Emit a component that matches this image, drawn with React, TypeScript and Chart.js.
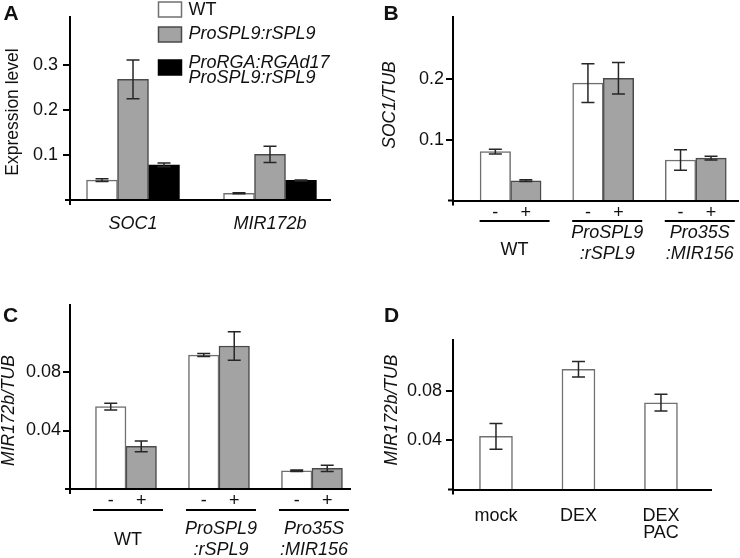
import React, { useEffect, useRef } from 'react';
import { Chart, registerables } from 'chart.js';

Chart.register(...registerables);

const FONT = "'Liberation Sans', Arial, Helvetica, sans-serif";
const TEXT = '#111111';
const WHITE_FILL = '#ffffff';
const WHITE_EDGE = '#707070';
const GRAY_FILL = '#a3a3a3';
const GRAY_EDGE = '#4a4a4a';
const BLACK_FILL = '#000000';
const ERR_COLOR = '#262626';

// ---------- Panel A ----------
const A_CATEGORIES = ['SOC1', 'MIR172b'];
const A_SERIES = [['WT'], ['ProSPL9:rSPL9'], ['ProRGA:RGAd17', 'ProSPL9:rSPL9']];
const A_SERIES_ITALIC = [false, true, true];
const A_WT = [0.044, 0.015];
const A_WT_ERR = [0.003, 0.001];
const A_RSPL9 = [0.268, 0.1015];
const A_RSPL9_ERR = [0.043, 0.018];
const A_RGA_RSPL9 = [0.078, 0.0435];
const A_RGA_RSPL9_ERR = [0.004, 0.001];
const A_TICKS = [0.1, 0.2, 0.3];
const A_TICK_LABELS = ['0.1', '0.2', '0.3'];
const A_Y_TITLE = 'Expression level';

// ---------- Panel B ----------
const B_GROUPS = [['WT'], ['ProSPL9', ':rSPL9'], ['Pro35S', ':MIR156']];
const B_GROUP_ITALIC = [false, true, true];
const B_TREATMENTS = ['-', '+'];
const B_MINUS = [0.0807, 0.194, 0.067];
const B_MINUS_ERR = [0.004, 0.032, 0.017];
const B_PLUS = [0.0327, 0.202, 0.07];
const B_PLUS_ERR = [0.0015, 0.026, 0.003];
const B_TICKS = [0.1, 0.2];
const B_TICK_LABELS = ['0.1', '0.2'];
const B_Y_TITLE = 'SOC1/TUB';

// ---------- Panel C ----------
const C_GROUPS = [['WT'], ['ProSPL9', ':rSPL9'], ['Pro35S', ':MIR156']];
const C_GROUP_ITALIC = [false, true, true];
const C_TREATMENTS = ['-', '+'];
const C_MINUS = [0.0563, 0.0916, 0.0125];
const C_MINUS_ERR = [0.0023, 0.001, 0.0005];
const C_PLUS = [0.0292, 0.0978, 0.0141];
const C_PLUS_ERR = [0.0037, 0.0098, 0.0021];
const C_TICKS = [0.04, 0.08];
const C_TICK_LABELS = ['0.04', '0.08'];
const C_Y_TITLE = 'MIR172b/TUB';

// ---------- Panel D ----------
const D_CATEGORIES = [['mock'], ['DEX'], ['DEX', 'PAC']];
const D_VALUES = [0.0431, 0.0975, 0.0704];
const D_ERR = [0.0105, 0.0063, 0.0068];
const D_TICKS = [0.04, 0.08];
const D_TICK_LABELS = ['0.04', '0.08'];
const D_Y_TITLE = 'MIR172b/TUB';

const W = 370;
const H = 279;

type Series = { label: string; values: number[]; errors: number[]; fill: string; edge: string };

type Panel = {
  letter: string;
  letterPos: [number, number];
  left: number;
  top: number;
  area: { l: number; t: number; r: number; b: number };
  xMin: number;
  xMax: number;
  yMax: number;
  barThickness: number;
  ticks: number[];
  tickLabels: string[];
  tickPad: number;
  yTitle: string;
  yTitleItalic: boolean;
  yTitlePos: [number, number];
  series: Series[];
  nCats: number;
  categories?: string[][];
  catItalic?: boolean;
  catPad?: number;
  catLineHeight?: number;
  legend?: {
    names: string[][];
    italic: boolean[];
    boxX: number;
    boxW: number;
    boxH: number;
    boxTops: number[];
    textX: number;
    lineYs: number[][];
  };
  groups?: {
    names: string[][];
    italic: boolean[];
    treatments: string[];
    shift: number;
    halfLen: number;
    pmDy: number;
    lineDy: number;
    singleDy: number;
    multiDy: number[];
  };
};

const PANELS: Panel[] = [
  {
    letter: 'A',
    letterPos: [3.5, 20],
    left: 0,
    top: 0,
    area: { l: 70, t: 17, r: 330, b: 200 },
    xMin: 0.54,
    xMax: 2.438,
    yMax: 0.4067,
    barThickness: 31,
    ticks: A_TICKS,
    tickLabels: A_TICK_LABELS,
    tickPad: 5,
    yTitle: A_Y_TITLE,
    yTitleItalic: false,
    yTitlePos: [13, 112],
    series: [
      { label: A_SERIES[0].join(' '), values: A_WT, errors: A_WT_ERR, fill: WHITE_FILL, edge: WHITE_EDGE },
      { label: A_SERIES[1].join(' '), values: A_RSPL9, errors: A_RSPL9_ERR, fill: GRAY_FILL, edge: GRAY_EDGE },
      { label: A_SERIES[2].join(' '), values: A_RGA_RSPL9, errors: A_RGA_RSPL9_ERR, fill: BLACK_FILL, edge: BLACK_FILL },
    ],
    nCats: A_CATEGORIES.length,
    categories: A_CATEGORIES.map((c) => [c]),
    catItalic: true,
    catPad: 5,
    catLineHeight: 1.2,
    legend: {
      names: A_SERIES,
      italic: A_SERIES_ITALIC,
      boxX: 158.5,
      boxW: 23,
      boxH: 15,
      boxTops: [2, 27, 60],
      textX: 188.5,
      lineYs: [[10], [34], [63, 77.5]],
    },
  },
  {
    letter: 'B',
    letterPos: [13.5, 20],
    left: 370,
    top: 0,
    area: { l: 83, t: 17, r: 368, b: 200.5 },
    xMin: 0.378,
    xMax: 3.456,
    yMax: 0.3033,
    barThickness: 30.5,
    ticks: B_TICKS,
    tickLabels: B_TICK_LABELS,
    tickPad: 2,
    yTitle: B_Y_TITLE,
    yTitleItalic: true,
    yTitlePos: [20.5, 105],
    series: [
      { label: B_TREATMENTS[0], values: B_MINUS, errors: B_MINUS_ERR, fill: WHITE_FILL, edge: WHITE_EDGE },
      { label: B_TREATMENTS[1], values: B_PLUS, errors: B_PLUS_ERR, fill: GRAY_FILL, edge: GRAY_EDGE },
    ],
    nCats: B_GROUPS.length,
    groups: {
      names: B_GROUPS,
      italic: B_GROUP_ITALIC,
      treatments: B_TREATMENTS,
      shift: 4,
      halfLen: 35,
      pmDy: 13,
      lineDy: 20.5,
      singleDy: 49.5,
      multiDy: [32.8, 53],
    },
  },
  {
    letter: 'C',
    letterPos: [3, 43],
    left: 0,
    top: 279,
    area: { l: 70, t: 25.5, r: 350, b: 210 },
    xMin: 0.398,
    xMax: 3.409,
    yMax: 0.1262,
    barThickness: 30.5,
    ticks: C_TICKS,
    tickLabels: C_TICK_LABELS,
    tickPad: 2,
    yTitle: C_Y_TITLE,
    yTitleItalic: true,
    yTitlePos: [9.5, 131.5],
    series: [
      { label: C_TREATMENTS[0], values: C_MINUS, errors: C_MINUS_ERR, fill: WHITE_FILL, edge: WHITE_EDGE },
      { label: C_TREATMENTS[1], values: C_PLUS, errors: C_PLUS_ERR, fill: GRAY_FILL, edge: GRAY_EDGE },
    ],
    nCats: C_GROUPS.length,
    groups: {
      names: C_GROUPS,
      italic: C_GROUP_ITALIC,
      treatments: C_TREATMENTS,
      shift: 2,
      halfLen: 35,
      pmDy: 12,
      lineDy: 21,
      singleDy: 50.8,
      multiDy: [39.7, 60.5],
    },
  },
  {
    letter: 'D',
    letterPos: [14, 43.3],
    left: 370,
    top: 279,
    area: { l: 83, t: 60.5, r: 341.7, b: 210.5 },
    xMin: 0.479,
    xMax: 3.615,
    yMax: 0.1217,
    barThickness: 33,
    ticks: D_TICKS,
    tickLabels: D_TICK_LABELS,
    tickPad: 4,
    yTitle: D_Y_TITLE,
    yTitleItalic: true,
    yTitlePos: [22.5, 131],
    series: [{ label: 'MIR172b/TUB', values: D_VALUES, errors: D_ERR, fill: WHITE_FILL, edge: WHITE_EDGE }],
    nCats: D_CATEGORIES.length,
    categories: D_CATEGORIES,
    catItalic: false,
    catPad: 10,
    catLineHeight: 0.96,
  },
];

function drawText(
  ctx: CanvasRenderingContext2D,
  s: string,
  x: number,
  y: number,
  size: number,
  o: { italic?: boolean; bold?: boolean; align?: CanvasTextAlign; baseline?: CanvasTextBaseline; rotate?: boolean } = {}
) {
  ctx.save();
  ctx.font = `${o.italic ? 'italic ' : ''}${o.bold ? 'bold ' : ''}${size}px ${FONT}`;
  ctx.fillStyle = TEXT;
  ctx.textAlign = o.align || 'center';
  ctx.textBaseline = o.baseline || 'middle';
  ctx.translate(x, y);
  if (o.rotate) ctx.rotate(-Math.PI / 2);
  ctx.fillText(s, 0, 0);
  ctx.restore();
}

function overlayPlugin(p: Panel) {
  return {
    id: 'overlay' + p.letter,
    afterDatasetsDraw(chart: any) {
      const ctx: CanvasRenderingContext2D = chart.ctx;
      const y = chart.scales.y;
      ctx.save();
      ctx.strokeStyle = ERR_COLOR;
      ctx.lineWidth = 1.5;
      p.series.forEach((s, di) => {
        const meta = chart.getDatasetMeta(di);
        meta.data.forEach((el: any, i: number) => {
          const v = s.values[i];
          const e = s.errors[i];
          const yt = y.getPixelForValue(v + e);
          const yb = y.getPixelForValue(v - e);
          const x = el.x;
          const cap = 6.5;
          ctx.beginPath();
          ctx.moveTo(x, yt);
          ctx.lineTo(x, yb);
          ctx.moveTo(x - cap, yt);
          ctx.lineTo(x + cap, yt);
          ctx.moveTo(x - cap, yb);
          ctx.lineTo(x + cap, yb);
          ctx.stroke();
        });
      });
      ctx.restore();
    },
    afterDraw(chart: any) {
      const ctx: CanvasRenderingContext2D = chart.ctx;
      const ca = chart.chartArea;
      const xs = chart.scales.x;
      // axis corner cross
      ctx.save();
      ctx.strokeStyle = '#000';
      ctx.lineWidth = 2;
      ctx.beginPath();
      ctx.moveTo(ca.left - 5, ca.bottom);
      ctx.lineTo(ca.left, ca.bottom);
      ctx.moveTo(ca.left, ca.bottom);
      ctx.lineTo(ca.left, ca.bottom + 5);
      ctx.stroke();
      ctx.restore();

      // panel letter
      drawText(ctx, p.letter, p.letterPos[0], p.letterPos[1], 21, { bold: true, align: 'left', baseline: 'alphabetic' });
      // y title
      drawText(ctx, p.yTitle, p.yTitlePos[0], p.yTitlePos[1], 17.5, { italic: p.yTitleItalic, rotate: true });

      // legend
      if (p.legend) {
        const lg = p.legend;
        p.series.forEach((s, i) => {
          ctx.save();
          ctx.fillStyle = s.fill;
          ctx.fillRect(lg.boxX, lg.boxTops[i], lg.boxW, lg.boxH);
          ctx.strokeStyle = s.edge;
          ctx.lineWidth = 1.5;
          ctx.strokeRect(lg.boxX, lg.boxTops[i], lg.boxW, lg.boxH);
          ctx.restore();
          lg.names[i].forEach((line, li) => {
            drawText(ctx, line, lg.textX, lg.lineYs[i][li], 18, { italic: lg.italic[i], align: 'left' });
          });
        });
      }

      // grouped labels
      if (p.groups) {
        const g = p.groups;
        g.names.forEach((name, gi) => {
          const cx = xs.getPixelForValue(gi + 1) + g.shift;
          ctx.save();
          ctx.strokeStyle = '#000';
          ctx.lineWidth = 1.8;
          ctx.beginPath();
          ctx.moveTo(cx - g.halfLen, ca.bottom + g.lineDy);
          ctx.lineTo(cx + g.halfLen, ca.bottom + g.lineDy);
          ctx.stroke();
          ctx.restore();
          p.series.forEach((_, di) => {
            const el = chart.getDatasetMeta(di).data[gi];
            drawText(ctx, g.treatments[di], el.x, ca.bottom + g.pmDy, 18);
          });
          if (name.length === 1) {
            drawText(ctx, name[0], cx, ca.bottom + g.singleDy, 18, { italic: g.italic[gi] });
          } else {
            name.forEach((line, li) => {
              drawText(ctx, line, cx, ca.bottom + g.multiDy[li], 18, { italic: g.italic[gi] });
            });
          }
        });
      }
    },
  };
}

function buildConfig(p: Panel): any {
  const positions = Array.from({ length: p.nCats }, (_, i) => i + 1);
  return {
    type: 'bar',
    data: {
      datasets: p.series.map((s) => ({
        label: s.label,
        data: s.values.map((v, i) => ({ x: positions[i], y: v })),
        backgroundColor: s.fill,
        borderColor: s.edge,
        borderWidth: 1.5,
        borderSkipped: 'bottom',
        barThickness: p.barThickness,
      })),
    },
    options: {
      animation: false,
      responsive: false,
      maintainAspectRatio: false,
      devicePixelRatio: 1,
      events: [],
      layout: {
        padding: { left: 0, top: p.area.t, right: W - p.area.r, bottom: 0 },
      },
      plugins: {
        legend: { display: false },
        tooltip: { enabled: false },
        title: { display: false },
      },
      scales: {
        x: {
          type: 'linear',
          position: 'bottom',
          min: p.xMin,
          max: p.xMax,
          offset: false,
          afterBuildTicks: (s: any) => {
            s.ticks = positions.map((v) => ({ value: v }));
          },
          afterFit: (s: any) => {
            s.height = H - p.area.b;
          },
          grid: { display: false },
          border: { display: true, color: '#000', width: 2, z: 1 },
          ticks: {
            display: !!p.categories,
            autoSkip: false,
            maxRotation: 0,
            padding: p.catPad || 0,
            color: TEXT,
            font: { family: FONT, size: 18, style: p.catItalic ? 'italic' : 'normal', lineHeight: p.catLineHeight || 1.2 },
            callback: (_v: any, i: number) => (p.categories ? p.categories[i] : ''),
          },
        },
        y: {
          type: 'linear',
          min: 0,
          max: p.yMax,
          afterBuildTicks: (s: any) => {
            s.ticks = p.ticks.map((v) => ({ value: v }));
          },
          afterFit: (s: any) => {
            s.width = p.area.l;
          },
          grid: { display: true, drawOnChartArea: false, drawTicks: true, tickLength: 7, color: '#000', lineWidth: 2 },
          border: { display: true, color: '#000', width: 2, z: 1 },
          title: { display: false },
          ticks: {
            padding: p.tickPad,
            color: TEXT,
            font: { family: FONT, size: 18 },
            callback: (_v: any, i: number) => p.tickLabels[i],
          },
        },
      },
    },
    plugins: [overlayPlugin(p)],
  };
}

function PanelChart({ p }: { p: Panel }) {
  const ref = useRef<HTMLCanvasElement | null>(null);
  useEffect(() => {
    if (!ref.current) return;
    const chart = new Chart(ref.current, buildConfig(p));
    return () => chart.destroy();
  }, [p]);
  return (
    <canvas
      ref={ref}
      width={W}
      height={H}
      style={{ position: 'absolute', left: p.left, top: p.top, width: W, height: H }}
    />
  );
}

export default function App() {
  return (
    <div style={{ position: 'fixed', left: 0, top: 0, width: 740, height: 558, background: '#ffffff', overflow: 'hidden' }}>
      {PANELS.map((p) => (
        <PanelChart key={p.letter} p={p} />
      ))}
    </div>
  );
}
